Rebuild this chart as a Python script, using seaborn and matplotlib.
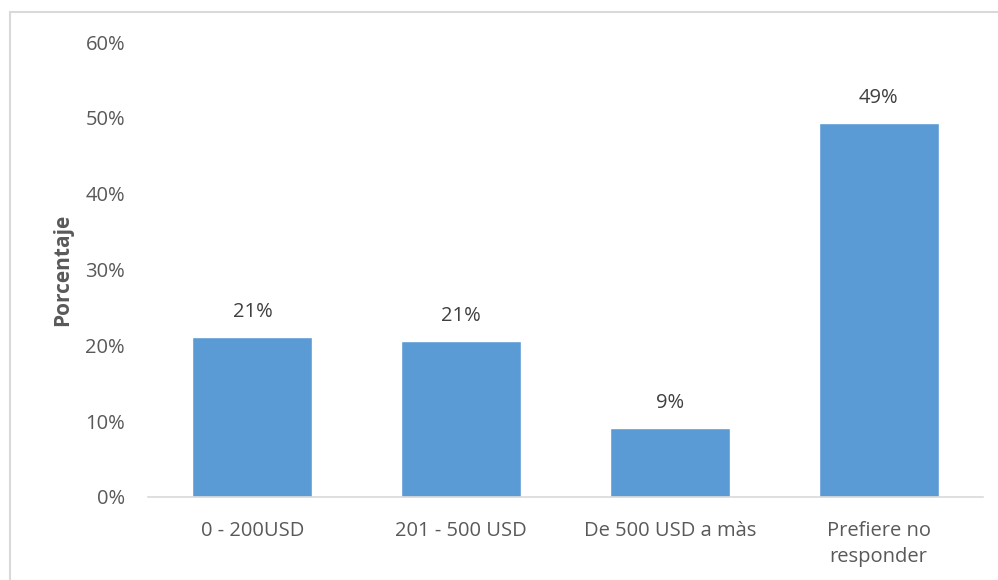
import pandas as pd
import seaborn as sns
from matplotlib import pyplot as plt
from matplotlib.patches import Rectangle
from matplotlib.ticker import PercentFormatter

categorias = ["0 - 200USD", "201 - 500 USD", "De 500 USD a màs", "Prefiere no\nresponder"]
porcentajes = [21.1, 20.6, 9.1, 49.3]
etiquetas = ["21%", "21%", "9%", "49%"]

sns.set_style("white")
plt.rcParams['font.family'] = ['Open Sans', 'DejaVu Sans']

df = pd.DataFrame({"cat": categorias, "pct": porcentajes})

fig = plt.figure(figsize=(9.98, 5.8), dpi=100)
ax = fig.add_axes([148/998, 83/580, 835/998, 455/580])
sns.barplot(data=df, x="cat", y="pct", color="#5B9BD5", width=0.575, saturation=1, ax=ax)

gris = "#595959"
ax.set_ylim(0, 60)
ax.set_xlim(-0.5, 3.5)
ax.set_yticks(range(0, 61, 10))
ax.yaxis.set_major_formatter(PercentFormatter(decimals=0))
ax.tick_params(axis="both", length=0, labelsize=14.5, colors=gris)
ax.tick_params(axis="y", pad=16.5)
ax.tick_params(axis="x", pad=17)
for t in ax.get_xticklabels():
    t.set_linespacing(1.45)
ax.set_xlabel("")
ax.set_ylabel("Porcentaje", fontsize=15, fontweight="bold", color=gris, labelpad=9)
for s in ["top", "right", "left"]:
    ax.spines[s].set_visible(False)
ax.spines["bottom"].set_color("#D9D9D9")
ax.spines["bottom"].set_linewidth(1.2)

for bar, txt in zip(ax.patches, etiquetas):
    ax.annotate(txt, (bar.get_x() + bar.get_width() / 2, bar.get_height()),
                xytext=(0, 11), textcoords="offset points", ha="center", va="bottom",
                fontsize=14.5, color="#404040")

fig.patches.append(Rectangle((10/998, -0.05), 1.0, 1.05 - 12/580, transform=fig.transFigure,
                             fill=False, edgecolor="#D9D9D9", linewidth=1.5))

fig.savefig("out.png", dpi=100)
